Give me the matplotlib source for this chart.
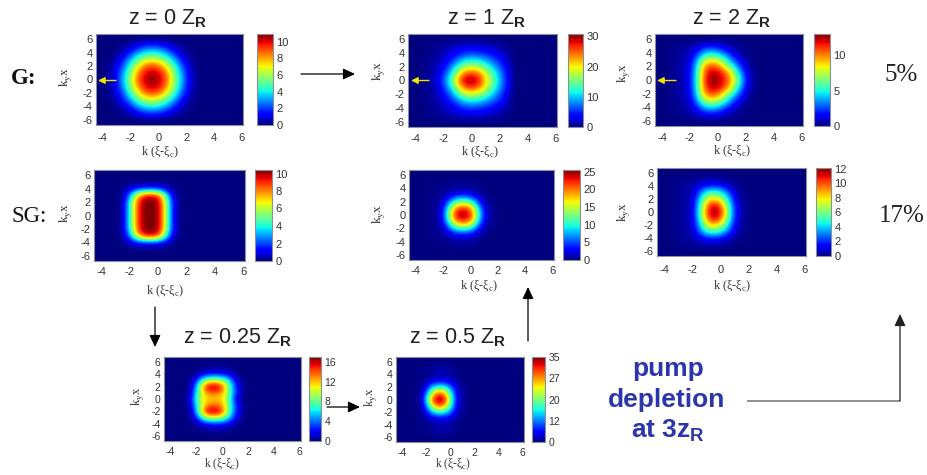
import numpy as np
import matplotlib
matplotlib.use("Agg")
import matplotlib.pyplot as plt

plt.rcParams.update({
    "font.family": "Liberation Sans",
    "axes.unicode_minus": False,
    "mathtext.fontset": "custom",
    "mathtext.rm": "Liberation Sans",
    "mathtext.bf": "Liberation Sans:bold",
})

# Field samples. Rows: k_y = 0..5 (mirrored in k_y),
# columns: k_x = -3.5 .. 2.5 in steps of 0.5.
G0_VALUES = [
    [.3, 1.5, 3.5, 6, 8.8, 10.2, 10.9, 10.5, 9.2, 6.7, 4.1, 2, .5],
    [.3, 1.4, 3.2, 5.6, 8.2, 9.7, 10.4, 10, 8.8, 6.3, 3.9, 1.8, .5],
    [.2, 1, 2.5, 4.6, 6.7, 8.6, 9.1, 8.8, 7.2, 5.2, 3.2, 1.4, .3],
    [.1, .5, 1.7, 3.2, 5, 6.1, 6.7, 6.3, 5.2, 3.7, 2, .7, .2],
    [0, .2, .7, 1.7, 2.9, 3.8, 4.1, 3.9, 3.2, 2, 1, .3, .05],
    [0, .05, .2, .6, 1.2, 1.7, 2, 1.8, 1.3, .7, .3, .1, 0],
]
G1_VALUES = [
    [.3, .6, 2.5, 6, 13, 22.5, 29.5, 30.8, 28, 21, 15, 9.5, 4.5],
    [.3, .6, 2, 5, 10, 18, 25, 26.5, 24.5, 19, 13.5, 8.5, 4],
    [.3, .6, 1.5, 3.5, 7, 12.5, 17, 18, 17, 14, 10, 6.5, 3],
    [.2, .5, 1, 2.3, 4, 7, 10, 11, 10.5, 8.5, 6.5, 4.5, 2],
    [.1, .4, .8, 1.5, 2.5, 4, 5, 5.5, 5.2, 4.5, 3.5, 2.3, 1],
    [.1, .3, .5, 1, 1.5, 2, 2.5, 2.7, 2.5, 2, 1.5, 1, .5],
]
G2_VALUES = [
    [.1, .3, .6, 1.5, 5, 10.5, 13, 12.5, 11.6, 9.2, 5.8, 2, .4],
    [.1, .3, .6, 1.5, 5, 10.2, 12.5, 12.2, 11, 8.3, 4.8, 1.6, .3],
    [.1, .3, .6, 1.3, 4.5, 9.4, 11, 10.5, 8.2, 5.5, 3, 1, .2],
    [.1, .3, .5, 1.1, 3.4, 7, 8.1, 7.4, 5.5, 3.2, 1.5, .4, .1],
    [.1, .2, .4, .7, 1.8, 3.8, 4.5, 4, 2.7, 1.4, .5, .2, 0],
    [.1, .2, .3, .4, .8, 1.4, 1.7, 1.4, .9, .4, .2, .1, 0],
]
SG0_VALUES = [
    [0, 0, .3, 3.9, 8.3, 10.4, 10.5, 10.2, 6.6, 1.5, .1, 0, 0],
    [0, 0, .3, 3.9, 8.3, 10.4, 10.5, 10.2, 6.6, 1.5, .1, 0, 0],
    [0, 0, .3, 3.8, 8.2, 10.3, 10.5, 10.1, 6.5, 1.5, .1, 0, 0],
    [0, 0, .2, 2.6, 6.8, 9.2, 9.8, 9, 5, 1, .1, 0, 0],
    [0, 0, .1, .6, 1.2, 1.5, 1.6, 1.4, .8, .2, 0, 0, 0],
    [0, 0, 0, 0, 0, 0, 0, 0, 0, 0, 0, 0, 0],
]
SG1_VALUES = [
    [.1, .2, .4, 4, 15.6, 24.5, 25.5, 22.5, 12, 3, .5, .1, 0],
    [.1, .2, .4, 3, 13, 20.5, 22, 19.5, 9.5, 2, .4, .1, 0],
    [.1, .2, .4, 1.5, 6.5, 11, 12, 10, 4.5, 1, .2, .1, 0],
    [.1, .2, .3, .6, 1.8, 2.6, 2.8, 2.4, 1, .3, .1, 0, 0],
    [.1, .1, .2, .3, .5, .6, .7, .6, .3, .1, 0, 0, 0],
    [.1, .1, .1, .1, .2, .2, .2, .2, .1, 0, 0, 0, 0],
]
SG2_VALUES = [
    [.1, .2, .4, .8, 4.7, 9.5, 12.1, 11, 6.8, 2.2, .5, .1, 0],
    [.1, .2, .4, .7, 4.2, 9, 11.4, 10.2, 6.2, 2, .4, .1, 0],
    [.1, .2, .4, .7, 3.5, 7, 8.3, 7.3, 4.6, 1.5, .3, .1, 0],
    [.1, .2, .3, .6, 2.4, 4.8, 5.4, 4.8, 3, 1, .2, .1, 0],
    [.1, .2, .3, .5, 1, 1.6, 1.8, 1.6, .9, .3, .1, 0, 0],
    [.1, .1, .2, .2, .3, .5, .5, .4, .2, .1, 0, 0, 0],
]
B0_VALUES = [
    [0, 0, 1, 7.5, 11, 11.5, 11.5, 11.5, 8, 1.5, .2, 0, 0],
    [0, 0, .7, 6, 11, 13.5, 13.5, 12.5, 8, 3.5, .4, 0, 0],
    [0, 0, .4, 5, 13, 16.8, 16.8, 14.5, 8, 3, .4, 0, 0],
    [0, 0, .2, 2.5, 7.5, 10, 10, 9, 6, 2, .2, 0, 0],
    [0, 0, 0, .4, 1.5, 2.2, 2.4, 2.2, 1.4, .4, 0, 0, 0],
    [0, 0, 0, .1, .2, .3, .4, .3, .2, .1, 0, 0, 0],
]
B1_VALUES = [
    [.1, .2, .6, 12, 30, 35, 33, 16, 4.4, .8, .2, 0, 0],
    [.1, .2, .5, 8, 22, 29, 26, 14, 3.5, .6, .1, 0, 0],
    [.1, .2, .4, 3.5, 11, 14, 13, 8, 2.5, .5, .1, 0, 0],
    [.1, .2, .3, 1, 2.5, 3.2, 3, 2.2, 1, .2, 0, 0, 0],
    [.1, .1, .2, .4, .9, 1.3, 1.5, 1, .4, .1, 0, 0, 0],
    [0, .1, .2, .4, .9, 1.5, 1.5, .9, .3, 0, 0, 0, 0],
]

X_TICKS = [-4, -2, 0, 2, 4, 6]
Y_TICKS = [-6, -4, -2, 0, 2, 4, 6]
TITLES = ["z = 0 Z", "z = 1 Z", "z = 2 Z", "z = 0.25 Z", "z = 0.5 Z"]
CB_B1_LABELS = ["0", "12", "20", "27", "35"]

W, H = 928, 475
fig = plt.figure(figsize=(W / 100, H / 100), dpi=100, facecolor="white")
EDGE = "#8a8f98"
TICK = "#333333"


def add_px_axes(l, r, t, b):
    return fig.add_axes([l / W, 1 - b / H, (r - l) / W, (b - t) / H])


def field(values):
    half = np.asarray(values, float)
    half = np.hstack([np.zeros((6, 2)), half, np.zeros((6, 7))])
    half = np.vstack([half, np.zeros((2, half.shape[1]))])
    return np.vstack([half[:0:-1], half])


def panel(values, box, cbox, vmax, cticks, xlab, ylab, tickpad, fs=8, clabels=None):
    l, r, t, b = box
    ax = add_px_axes(l, r, t, b)
    im = ax.imshow(field(values), cmap="jet", vmin=0, vmax=vmax, origin="lower",
                   extent=(-4.75, 6.25, -7.5, 7.5), aspect="auto",
                   interpolation="bicubic")
    ax.set_xlim(-4.5, 6.1)
    ax.set_ylim(-6.75, 6.75)
    ax.set_xticks(X_TICKS)
    ax.set_yticks(Y_TICKS)
    ax.tick_params(axis="x", length=0, pad=tickpad, labelsize=fs, labelcolor=TICK)
    ax.tick_params(axis="y", length=0, pad=2.5, labelsize=fs, labelcolor=TICK)
    for s in ax.spines.values():
        s.set_color(EDGE)
        s.set_linewidth(0.8)
    ax.set_xlabel("k (ξ-ξ$_{\\mathregular{c}}$)", family="Liberation Serif",
                  fontsize=fs + 0.8, color=TICK)
    ax.xaxis.set_label_coords((xlab[0] - l) / (r - l), (b - xlab[1]) / (b - t))
    ax.xaxis.label.set_verticalalignment("center")
    ax.set_ylabel("k$_{\\mathregular{y}}$x", family="Liberation Serif",
                  fontsize=fs + 1.5, color=TICK)
    ax.yaxis.set_label_coords((ylab[0] - l) / (r - l), (b - ylab[1]) / (b - t))
    ax.yaxis.label.set_verticalalignment("center")

    cax = add_px_axes(cbox[0], cbox[1], t, b)
    cb = fig.colorbar(im, cax=cax)
    cb.set_ticks(cticks)
    if clabels:
        cb.set_ticklabels(clabels)
    cb.ax.tick_params(length=0, pad=2.5, labelsize=fs, labelcolor=TICK)
    cb.outline.set_edgecolor(EDGE)
    cb.outline.set_linewidth(0.8)
    return ax


panel(G0_VALUES, (96, 243, 34, 125), (257, 273), 10.9, [0, 2, 4, 6, 8, 10], (160, 152), (66, 77), 5.5)
panel(G1_VALUES, (408, 557, 34, 127), (568, 583), 30.8, [0, 10, 20, 30], (480, 152), (379, 71), 5)
panel(G2_VALUES, (655, 803, 34, 126), (814, 830), 13, [0, 5, 10], (732, 151), (624, 73), 5)
panel(SG0_VALUES, (94, 245, 170, 261), (255, 272), 10.4, [0, 2, 4, 6, 8, 10], (165, 291), (66, 213), 4)
panel(SG1_VALUES, (409, 554, 170, 260), (563, 580), 25.5, [0, 5, 10, 15, 20, 25], (479, 286), (379, 214), 4.5)
panel(SG2_VALUES, (657, 806, 168, 256), (816, 831), 12.1, [0, 2, 4, 6, 8, 10, 12], (732, 286), (624, 212), 6.5)
panel(B0_VALUES, (164, 301, 357, 441), (309, 321), 17, [0, 4, 8, 12, 16], (222, 464), (138, 396), 4, fs=7.5)
panel(B1_VALUES, (396, 524, 357, 442), (532, 545), 35, [0, 8.75, 17.5, 26.25, 35], (453, 464), (371, 397), 4, fs=7.5,
      clabels=CB_B1_LABELS)

ov = fig.add_axes([0, 0, 1, 1], zorder=10)
ov.set_xlim(0, W)
ov.set_ylim(H, 0)
ov.axis("off")
ov.patch.set_alpha(0)


def txt(x, y, s, **kw):
    ov.text(x, y, s, ha="center", va="center", **kw)


def arrow(x0, y0, x1, y1, color="black", lw=0.9, hl=0.9, hw=0.42, ms=8):
    ov.annotate("", xy=(x1, y1), xytext=(x0, y0),
                arrowprops=dict(arrowstyle=f"-|>,head_length={hl},head_width={hw}",
                                color=color, lw=lw, shrinkA=0, shrinkB=0,
                                mutation_scale=ms))


R = "$_{\\mathbf{R}}$"
TITLE_POS = [(168, 19), (487, 19), (732, 19), (237, 338), (457, 338)]
for s, (x, y) in zip(TITLES, TITLE_POS):
    txt(x, y, s + R, fontsize=15.5, color="#222222")

txt(24, 78, "G:", family="Liberation Serif", weight="bold", fontsize=16.5, color="#111111")
txt(29, 217, "SG:", family="Liberation Serif", fontsize=16.5, color="#111111")
txt(901, 75, "5%", family="Liberation Serif", fontsize=18, color="#222222")
txt(902, 216, "17%", family="Liberation Serif", fontsize=18, color="#222222")

BLUE = "#2b35ad"
txt(668, 369, "pump", weight="bold", fontsize=19, color=BLUE)
txt(667, 400, "depletion", weight="bold", fontsize=19, color=BLUE)
txt(668, 431, "at 3z$_{\\mathregular{R}}$", weight="bold", fontsize=19, color=BLUE)

arrow(301, 74, 355, 74)
arrow(155, 307, 155, 347)
arrow(327, 407, 360, 407)
arrow(528, 341, 528, 287)
ov.plot([747, 900], [401, 401], color="#8f8f8f", lw=1.4, solid_capstyle="butt")
arrow(900, 401, 900, 314, color="#222222")

YEL = "#f2e200"
for x0, x1 in [(116, 98), (429, 411), (676, 657)]:
    arrow(x0, 80.5, x1, 80.5, color=YEL, lw=1.0, hl=0.5, hw=0.25, ms=8)

fig.savefig("out.png", dpi=100)
